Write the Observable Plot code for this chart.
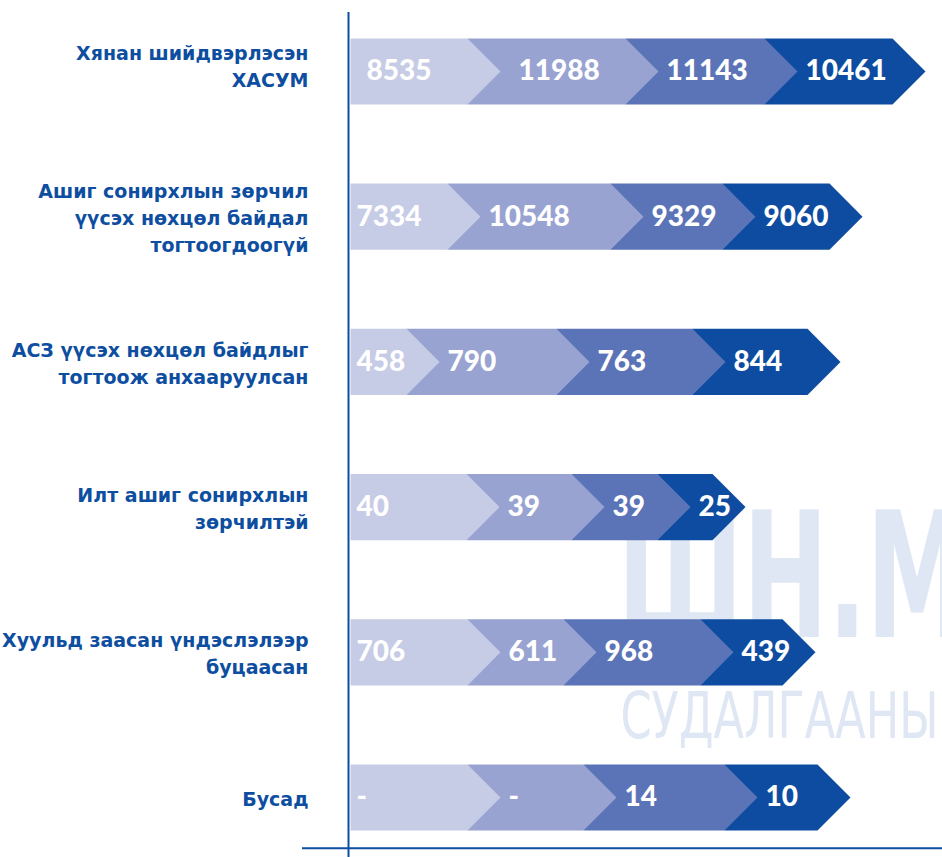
<!DOCTYPE html>
<html><head><meta charset="utf-8">
<script src="https://cdn.jsdelivr.net/npm/d3@7"></script>
<script src="https://cdn.jsdelivr.net/npm/@observablehq/plot@0.6"></script>
<style>
html,body{margin:0;padding:0;background:#fff;}
#chart{width:942px;height:857px;overflow:hidden;}
</style>
</head><body><div id="chart"></div>
<script>
// Row labels (top to bottom)
const categories = [
  "Хянан шийдвэрлэсэн\nХАСУМ",
  "Ашиг сонирхлын зөрчил\nүүсэх нөхцөл байдал\nтогтоогдоогүй",
  "АСЗ үүсэх нөхцөл байдлыг\nтогтоож анхааруулсан",
  "Илт ашиг сонирхлын\nзөрчилтэй",
  "Хуульд заасан үндэслэлээр\nбуцаасан",
  "Бусад"
];
// Printed values of the four stages
const series1 = ["8535", "7334", "458", "40", "706", "-"];
const series2 = ["11988", "10548", "790", "39", "611", "-"];
const series3 = ["11143", "9329", "763", "39", "968", "14"];
const series4 = ["10461", "9060", "844", "25", "439", "10"];
// Cumulative drawn length (arrow tip) of each stage
const reach1 = [150, 130, 89, 149, 150, 150];
const reach2 = [308, 293, 239, 254, 246, 266];
const reach3 = [447, 405, 375, 340, 383, 407];
const reach4 = [575, 512, 490, 395, 465, 500];
// Faint background watermark
const watermark = ["ШН.М", "СУДАЛГААНЫ"];

const seriesNames = ["s1", "s2", "s3", "s4"];
const colors = ["#c6cbe6", "#99a3d1", "#5b73b7", "#0e4ca1"];
const labels = [series1, series2, series3, series4];
const reaches = [reach1, reach2, reach3, reach4];

const depth = 33;      // chevron depth (x units)
const half = 0.228;    // half bar thickness (row units)

const poly = [];
const texts = [];
categories.forEach((c, r) => {
  for (let k = 3; k >= 0; k--) {
    const tip = reaches[k][r];
    const start = k === 0 ? 0 : reaches[k - 1][r] - depth;
    const flat = tip - depth;
    const id = r + "-" + k;
    const s = seriesNames[k];
    poly.push({id, s, x: start, y: r - half});
    poly.push({id, s, x: flat, y: r - half});
    poly.push({id, s, x: tip, y: r});
    poly.push({id, s, x: flat, y: r + half});
    poly.push({id, s, x: start, y: r + half});
  }
  for (let k = 0; k < 4; k++) {
    texts.push({
      row: r,
      x: k === 0 ? (r === 0 ? 16 : 6) : reaches[k - 1][r] + (r === 0 && k === 1 ? 18 : 8),
      label: labels[k][r]
    });
  }
});

const blue = "#0d4ea1";
const wmFont = "'Liberation Sans Narrow', 'DejaVu Sans Condensed', 'Roboto', sans-serif";
const catStyle = {x: -42, y: (d, i) => i, text: d => d, textAnchor: "end", lineAnchor: "middle",
  lineHeight: 1.42, fontSize: 19, fontWeight: "bold", fill: blue, fontFamily: "'DejaVu Sans', sans-serif"};
const chart = Plot.plot({
  width: 942,
  height: 857,
  marginTop: 12,
  marginBottom: 0,
  marginLeft: 302,
  marginRight: 0,
  x: {domain: [0, 590], range: [350, 940], axis: null},
  y: {domain: [0, 5], range: [71, 797], axis: null},
  color: {domain: seriesNames, range: colors},
  style: {background: "transparent", overflow: "visible"},
  marks: [
    Plot.text([watermark[0]], {x: 267, y: 3.51, text: d => d, textAnchor: "start", fontSize: 174, fontWeight: "bold",
      fontFamily: wmFont, fill: "#dee7f3", lineAnchor: "middle"}),
    Plot.text([watermark[1]], {x: 270, y: 4.45, text: d => d, textAnchor: "start", fontSize: 64,
      fontFamily: wmFont, fill: "#dee7f3", lineAnchor: "middle"}),
    Plot.line(poly, {x: "x", y: "y", z: "id", fill: "s", stroke: null, curve: "linear"}),
    Plot.text(texts, {x: "x", y: "row", text: "label", textAnchor: "start", fill: "white",
      fontSize: 28, fontWeight: 900, fontFamily: "Lato, 'Open Sans', sans-serif"}),
    Plot.text(categories, {...catStyle, filter: (d, i) => i > 0}),
    Plot.text(categories, {...catStyle, filter: (d, i) => i === 0, dy: -7}),
    Plot.ruleX([0], {dx: -2, stroke: blue, strokeWidth: 2}),
    Plot.ruleY([categories.length - 1 + 0.35], {stroke: blue, strokeWidth: 2})
  ]
});
// condense the watermark lettering
d3.select(chart).selectAll("text").each(function () {
  const t = this.textContent;
  if (t === watermark[0]) { this.setAttribute("textLength", 350); this.setAttribute("lengthAdjust", "spacingAndGlyphs"); }
  if (t === watermark[1]) { this.setAttribute("textLength", 318); this.setAttribute("lengthAdjust", "spacingAndGlyphs"); }
});
document.getElementById("chart").append(chart);
</script>
</body></html>
